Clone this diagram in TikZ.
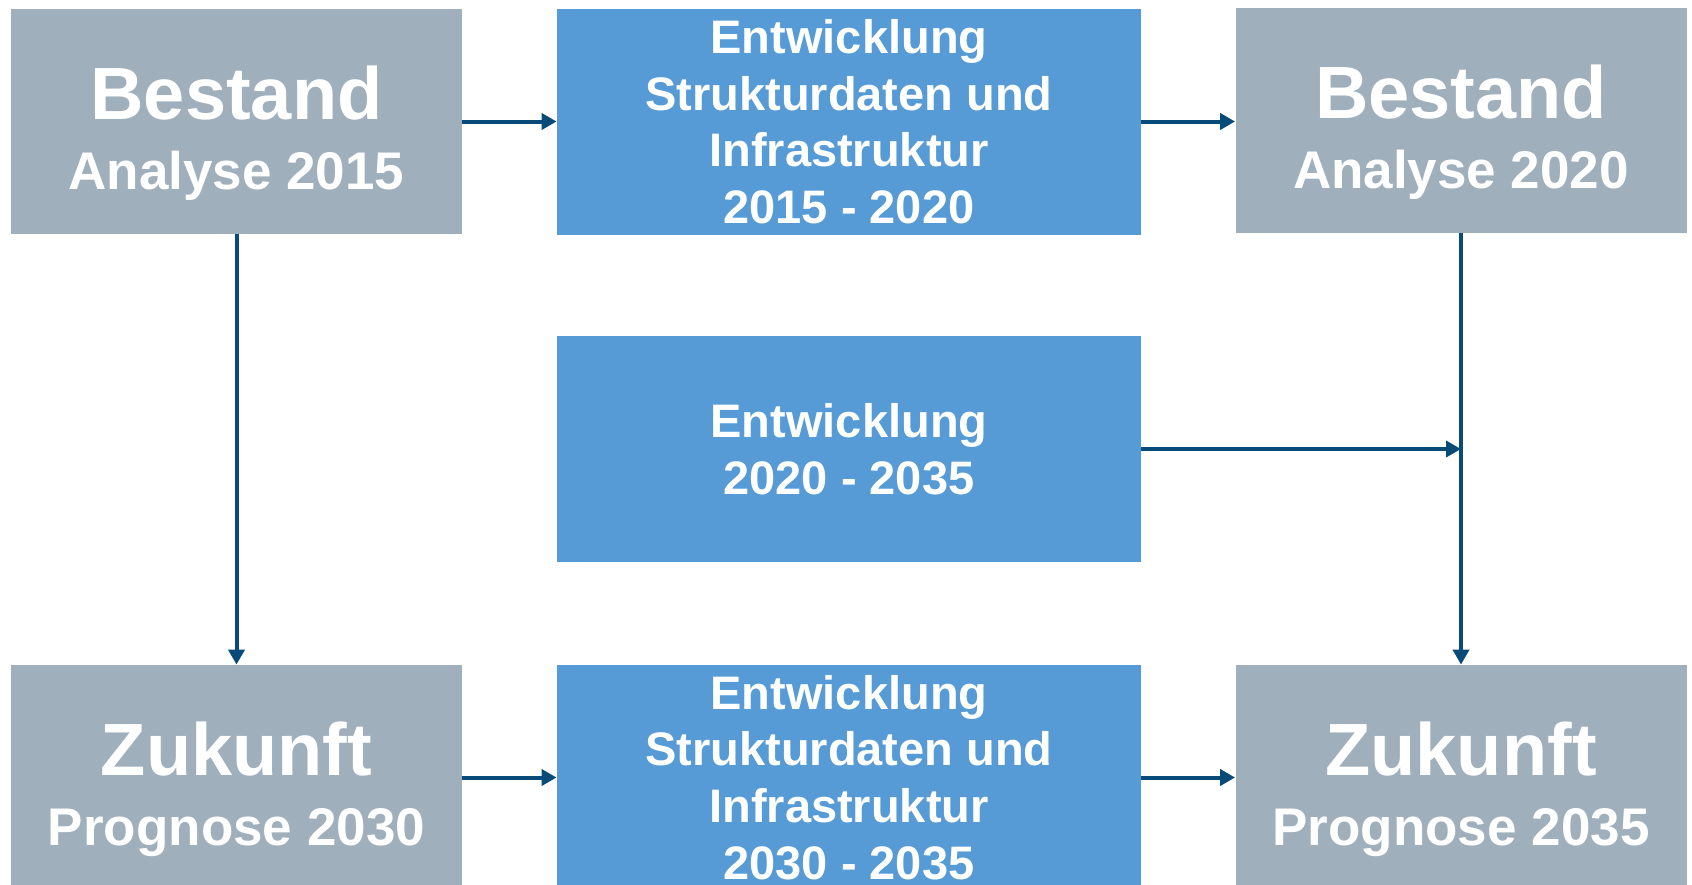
\documentclass[tikz,border=0pt]{standalone}
\usepackage{fontspec}
\setmainfont{Liberation Sans}
\usetikzlibrary{arrows.meta}
\definecolor{boxgray}{HTML}{9FAFBB}
\definecolor{boxblue}{HTML}{569BD5}
\definecolor{arrowblue}{HTML}{084A78}
\newcommand\boxtitle[1]{{\fontsize{37}{44}\selectfont #1}}
\begin{document}
\begin{tikzpicture}[x=0.5pt,y=-0.5pt,
    graybox/.style={fill=boxgray, minimum width=225.5pt, minimum height=112.5pt, inner sep=0pt},
    graytext/.style={text=white, align=center, inner sep=0pt, font=\fontsize{26.5}{35}\selectfont\bfseries},
    bluebox/.style={fill=boxblue, text=white, align=center, minimum width=292pt, minimum height=113pt,
      inner sep=0pt, font=\fontsize{23.5}{28.3}\selectfont\bfseries},
    flow/.style={draw=arrowblue, line width=2pt, -{Triangle[length=7.5pt,width=8pt]}}]
  \useasboundingbox (0,0) rectangle (1692,884);
  % left column
  \node[graybox] (best15) at (236.5,121.5) {};
  \node[graytext] (best15txt) at ([yshift=-5.75pt]best15.center) {\boxtitle{Bestand}\\Analyse 2015};
  \node[graybox] (zuk30) at (236.5,777.5) {};
  \node[graytext] (zuk30txt) at ([yshift=-5.75pt]zuk30.center) {\boxtitle{Zukunft}\\Prognose 2030};
  % middle column
  \node[bluebox] (ent1) at (849,121.5) {Entwicklung\\Strukturdaten und\\Infrastruktur\\2015 - 2020};
  \node[bluebox] (ent2) at (849,449) {Entwicklung\\2020 - 2035};
  \node[bluebox] (ent3) at (849,777.5) {Entwicklung\\Strukturdaten und\\Infrastruktur\\2030 - 2035};
  % right column
  \node[graybox] (best20) at (1461,120.5) {};
  \node[graytext] (best20txt) at ([yshift=-5.75pt]best20.center) {\boxtitle{Bestand}\\Analyse 2020};
  \node[graybox] (zuk35) at (1461,777.5) {};
  \node[graytext] (zuk35txt) at ([yshift=-5.75pt]zuk35.center) {\boxtitle{Zukunft}\\Prognose 2035};
  % arrows
  \draw[flow] (best15.east) -- (ent1.west);
  \draw[flow] (ent1.east) -- (ent1.east -| best20.west);
  \draw[flow] (best15.south) -- (zuk30.north);
  \draw[flow] (best20.south) -- (zuk35.north);
  \draw[flow] (ent2.east) -- (ent2.east -| best20.south);
  \draw[flow] (zuk30.east) -- (ent3.west);
  \draw[flow] (ent3.east) -- (zuk35.west);
\end{tikzpicture}
\end{document}
